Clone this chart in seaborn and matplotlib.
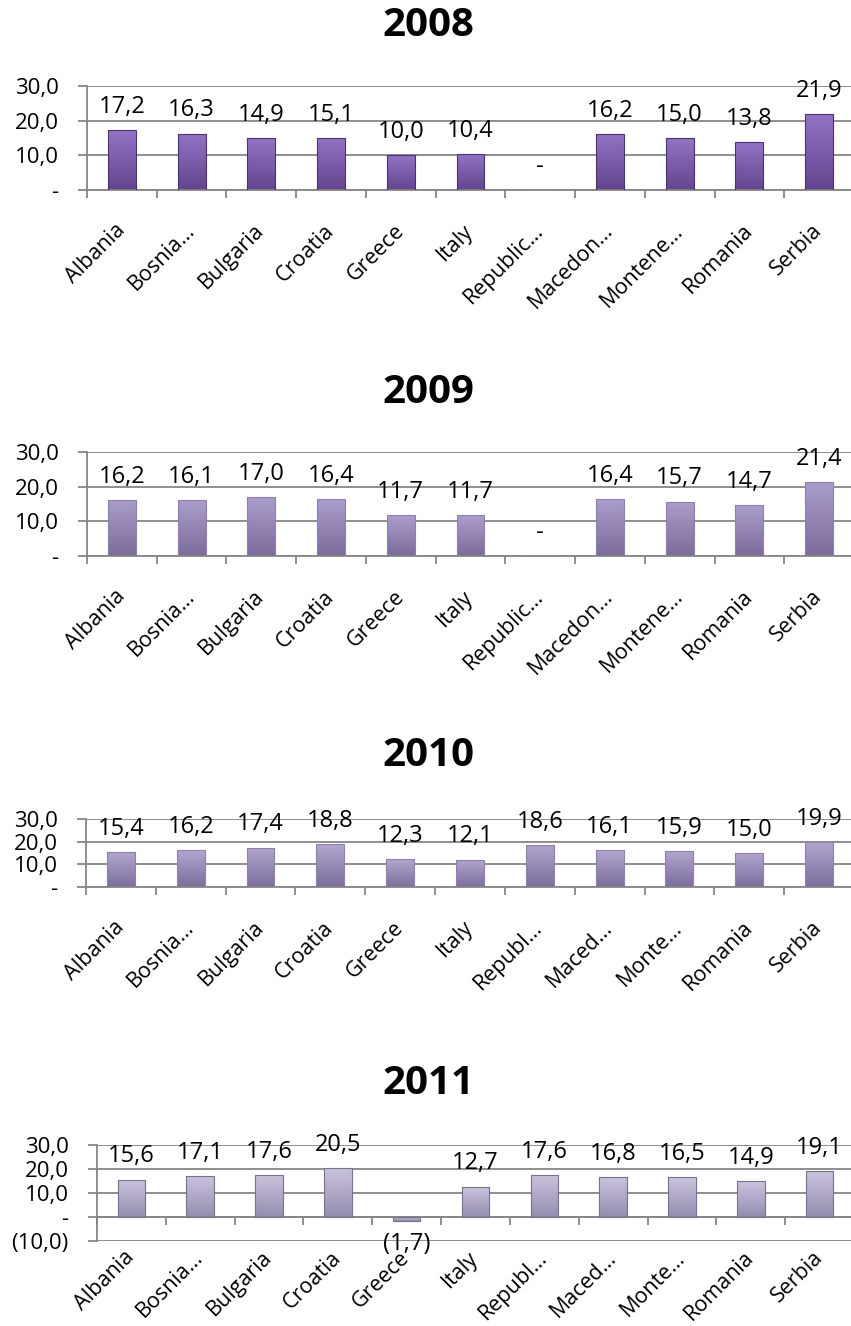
import numpy as np
import matplotlib
matplotlib.use("Agg")
import matplotlib.pyplot as plt
import seaborn as sns
from matplotlib.ticker import FuncFormatter

# country labels as shown (truncated like the original)
labels_wide = ["Albania", "Bosnia…", "Bulgaria", "Croatia", "Greece", "Italy",
               "Republic…", "Macedon…", "Montene…", "Romania", "Serbia"]
labels_narrow = ["Albania", "Bosnia…", "Bulgaria", "Croatia", "Greece", "Italy",
                 "Republ…", "Maced…", "Monte…", "Romania", "Serbia"]

years = ["2008", "2009", "2010", "2011"]
vals_2008 = [17.2, 16.3, 14.9, 15.1, 10.0, 10.4, 0.0, 16.2, 15.0, 13.8, 21.9]
vals_2009 = [16.2, 16.1, 17.0, 16.4, 11.7, 11.7, 0.0, 16.4, 15.7, 14.7, 21.4]
vals_2010 = [15.4, 16.2, 17.4, 18.8, 12.3, 12.1, 18.6, 16.1, 15.9, 15.0, 19.9]
vals_2011 = [15.6, 17.1, 17.6, 20.5, -1.7, 12.7, 17.6, 16.8, 16.5, 14.9, 19.1]

yticks_pos = [0, 10, 20, 30]
yticks_neg = [-10, 0, 10, 20, 30]

GRID = "#868686"


def fmt(v, pos=None):
    # excel accounting style: comma decimal, "-" for zero, brackets for negatives
    if abs(v) < 1e-9:
        return "-"
    s = f"{abs(v):.1f}".replace(".", ",")
    return f"({s})" if v < 0 else s


def shade_bars(ax, top, bottom, edge):
    cmap = matplotlib.colors.LinearSegmentedColormap.from_list("g", [bottom, top])
    grad = np.linspace(1, 0, 64).reshape(-1, 1)
    for p in list(ax.patches):
        h = p.get_height()
        if h == 0:
            continue
        x0, y0 = p.get_x(), p.get_y()
        y_lo, y_hi = min(y0, y0 + h), max(y0, y0 + h)
        im = ax.imshow(grad, cmap=cmap, aspect="auto", zorder=2,
                       extent=(x0, x0 + p.get_width(), y_lo, y_hi))
        im.set_clip_path(p)
        p.set_edgecolor(edge)
        p.set_linewidth(0.8)
        p.set_zorder(3)
        p.set_facecolor("none")


def draw_panel(ax, labels, values, yticks, top, bottom, edge):
    sns.barplot(x=labels, y=values, ax=ax, color=top, width=0.4, saturation=1)
    n = len(labels)
    ax.bar_label(ax.containers[0], labels=[fmt(v) for v in values],
                 padding=8, fontsize=17, color="black")
    shade_bars(ax, top, bottom, edge)

    # spines first: moving a spine resets the axis ticks
    for s in ["top", "right"]:
        ax.spines[s].set_visible(False)
    ax.spines["bottom"].set_position(("data", 0))
    for s in ["left", "bottom"]:
        ax.spines[s].set_color(GRID)
        ax.spines[s].set_linewidth(1.3)

    ax.set_xlim(-0.5, n - 0.5)
    ax.set_ylim(yticks[0], yticks[-1])
    ax.set_yticks(yticks)
    ax.yaxis.set_major_formatter(FuncFormatter(fmt))
    ax.yaxis.grid(True, color=GRID, linewidth=1.3)
    ax.set_axisbelow(True)

    # tick marks between categories, labels at the category centres
    ax.set_xticks(np.arange(-0.5, n, 1))
    ax.set_xticklabels([])
    ax.set_xticks(np.arange(n), labels, minor=True)
    ax.tick_params(axis="x", which="major", bottom=True, direction="out",
                   length=6, width=1.3, color=GRID)
    ax.tick_params(axis="x", which="minor", bottom=True, length=0, pad=27,
                   labelsize=15.5, labelrotation=45)
    for t in ax.get_xticklabels(minor=True):
        t.set_rotation_mode("anchor")
        t.set_ha("right")
        t.set_va("center")
    ax.tick_params(axis="y", left=True, direction="out", length=6.5, width=1.3,
                   color=GRID, labelsize=16, pad=14)
    ax.set_xlabel("")
    ax.set_ylabel("")


sns.set_style("white")
plt.rcParams["font.family"] = ["Open Sans", "DejaVu Sans"]
plt.rcParams["text.color"] = "black"
plt.rcParams["xtick.labelcolor"] = "black"
plt.rcParams["ytick.labelcolor"] = "black"

fig = plt.figure(figsize=(8.51, 13.26), dpi=100)

panels = [
    # year, axes rect, labels, values, ticks, colours
    ("2008", [0.1022, 0.8567, 0.9013, 0.0784], labels_wide, vals_2008, yticks_pos,
     ("#9274c4", "#63458f", "#4a3270")),
    ("2009", [0.1022, 0.5807, 0.9013, 0.0784], labels_wide, vals_2009, yticks_pos,
     ("#ab9dcc", "#7c6c9b", "#8e80ac")),
    ("2010", [0.1010, 0.3311, 0.9025, 0.0513], labels_narrow, vals_2010, yticks_pos,
     ("#b2a6cf", "#7d6e9c", "#8e80ac")),
    ("2011", [0.1140, 0.0641, 0.8895, 0.0724], labels_narrow, vals_2011, yticks_neg,
     ("#cbc4de", "#958daf", "#77708f")),
]
title_y = [25, 392, 756, 1083]

for (year, rect, labs, vals, ticks, cols), ty in zip(panels, title_y):
    ax = fig.add_axes(rect)
    draw_panel(ax, labs, vals, ticks, *cols)
    fig.text(0.503, 1 - ty / 1326, year, ha="center", va="center",
             fontsize=29, fontweight="bold", color="black")

fig.savefig("out.png", dpi=100)
